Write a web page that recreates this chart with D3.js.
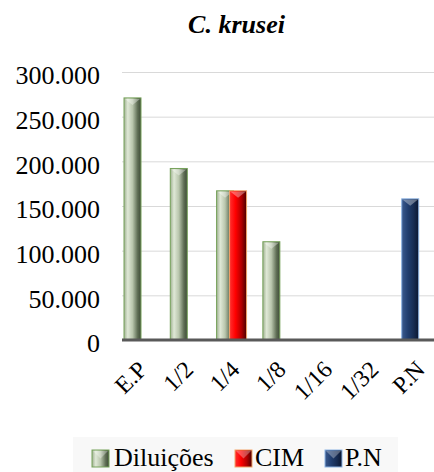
<!DOCTYPE html>
<meta charset="utf-8">
<style>
html, body { margin: 0; padding: 0; background: #fff; }
svg text { font-family: "Liberation Serif", "DejaVu Serif", serif; }
.grid line { stroke: #d9d9d9; stroke-width: 1; }
.grid path { display: none; }
.yaxis path, .yaxis line { display: none; }
.yaxis text { font-size: 26px; fill: #000; }
.xlab { font-size: 24px; fill: #000; }
.legend text { font-size: 26px; fill: #000; }
</style>
<div id="chart"></div>
<script src="https://cdn.jsdelivr.net/npm/d3@7"></script>
<script>

// data
var categories = ["E.P", "1/2", "1/4", "1/8", "1/16", "1/32", "P.N"];
var diluicoes = [271000, 192000, 167000, 110000, 0, 0, 0];
var cim = [0, 0, 167000, 0, 0, 0, 0];
var pn = [0, 0, 0, 0, 0, 0, 158000];
var yTicks = [0, 50000, 100000, 150000, 200000, 250000, 300000];

var width = 434, height = 472;
var serif = "'Liberation Serif', 'DejaVu Serif', serif";

var svg = d3.select("#chart").append("svg")
    .attr("width", width)
    .attr("height", height);

var defs = svg.append("defs");

function grad(id, stops) {
  var g = defs.append("linearGradient").attr("id", id)
      .attr("x1", "0%").attr("x2", "100%").attr("y1", "0%").attr("y2", "0%");
  stops.forEach(function(s) {
    g.append("stop").attr("offset", s[0]).attr("stop-color", s[1]);
  });
}
grad("gGreen", [["0%", "#9fb091"], ["22%", "#dfe8d6"], ["50%", "#b9c6ad"], ["80%", "#5f6e55"], ["100%", "#3d4a36"]]);
grad("gRed", [["0%", "#ff3030"], ["35%", "#ff0000"], ["70%", "#b00000"], ["100%", "#4a0000"]]);
grad("gNavy", [["0%", "#3b5a8e"], ["35%", "#223f70"], ["70%", "#172c52"], ["100%", "#0b1630"]]);

var series = [
  {name: "Diluições", values: diluicoes, fill: "url(#gGreen)", stroke: "#76a25a", offset: 4},
  {name: "CIM", values: cim, fill: "url(#gRed)", stroke: "#f2a46a", offset: 17},
  {name: "P.N", values: pn, fill: "url(#gNavy)", stroke: "#8db3e2", offset: 4}
];

var x = d3.scaleBand().domain(categories).range([120, 444]);
var y = d3.scaleLinear().domain([0, 300000]).range([340, 72]);
var barW = 17;

var loc = d3.formatLocale({decimal: ",", thousands: ".", grouping: [3], currency: ["", ""]});
var fmt = loc.format(",");

// title
svg.append("text")
    .attr("x", 236.5).attr("y", 33)
    .attr("text-anchor", "middle")
    .attr("font-family", serif)
    .style("font-size", "26px")
    .style("font-weight", "bold")
    .style("font-style", "italic")
    .text("C. krusei");

// gridlines
svg.append("g").attr("class", "grid")
    .attr("transform", "translate(122,0)")
    .call(d3.axisLeft(y).tickValues(yTicks).tickSize(-(width - 122)).tickFormat(""));

// y labels
svg.append("g").attr("class", "yaxis")
    .attr("transform", "translate(100,0)")
    .call(d3.axisLeft(y).tickValues(yTicks).tickSize(0).tickPadding(0).tickFormat(fmt))
    .attr("font-family", serif)
    .attr("font-size", 26)
  .selectAll("text")
    .attr("dy", "0.45em");

// bars
series.forEach(function(s) {
  var g = svg.append("g");
  var data = categories.map(function(c, i) { return {c: c, v: s.values[i]}; })
      .filter(function(d) { return d.v > 0; });
  g.selectAll("rect").data(data).enter().append("rect")
      .attr("x", function(d) { return x(d.c) + s.offset; })
      .attr("y", function(d) { return y(d.v); })
      .attr("width", barW)
      .attr("height", function(d) { return y(0) - y(d.v); })
      .attr("fill", s.fill)
      .attr("stroke", s.stroke)
      .attr("stroke-width", 1);
  // bevel on top
  g.selectAll("path").data(data).enter().append("path")
      .attr("d", function(d) {
        var x0 = x(d.c) + s.offset + 1, x1 = x0 + barW - 2, t = y(d.v) + 1;
        return "M" + x0 + "," + t + "L" + x1 + "," + t + "L" + (x0 + x1) / 2 + "," + (t + 6) + "Z";
      })
      .attr("fill", "#fff")
      .attr("fill-opacity", 0.35);
});

// x axis line
svg.append("line")
    .attr("x1", 122).attr("x2", width)
    .attr("y1", y(0)).attr("y2", y(0))
    .attr("stroke", "#595959").attr("stroke-width", 3);

// x labels
svg.append("g").selectAll("text").data(categories).enter().append("text")
    .attr("class", "xlab")
    .attr("font-family", serif)
    .attr("text-anchor", "end")
    .attr("transform", function(d) {
      return "translate(" + (x(d) + 4 + barW / 2 + 16) + ",371) rotate(-45)";
    })
    .text(function(d) { return d; });

// legend
var leg = svg.append("g").attr("class", "legend");
leg.append("rect")
    .attr("x", 73).attr("y", 437).attr("width", 325).attr("height", 35)
    .attr("fill", "#f8f8f8");
var legPos = [{mx: 92, tx: 114}, {mx: 235, tx: 255}, {mx: 325, tx: 345}];
series.forEach(function(s, i) {
  leg.append("rect")
      .attr("x", legPos[i].mx).attr("y", 450).attr("width", 17).attr("height", 17)
      .attr("fill", s.fill).attr("stroke", s.stroke).attr("stroke-width", 1);
  leg.append("path")
      .attr("d", "M" + (legPos[i].mx + 1) + "," + 451 + "L" + (legPos[i].mx + 16) + "," + 451 + "L" + (legPos[i].mx + 8.5) + "," + 458.5 + "Z")
      .attr("fill", "#fff").attr("fill-opacity", 0.3);
  leg.append("text")
      .attr("x", legPos[i].tx).attr("y", 466)
      .attr("font-family", serif)
      .text(s.name);
});

</script>
